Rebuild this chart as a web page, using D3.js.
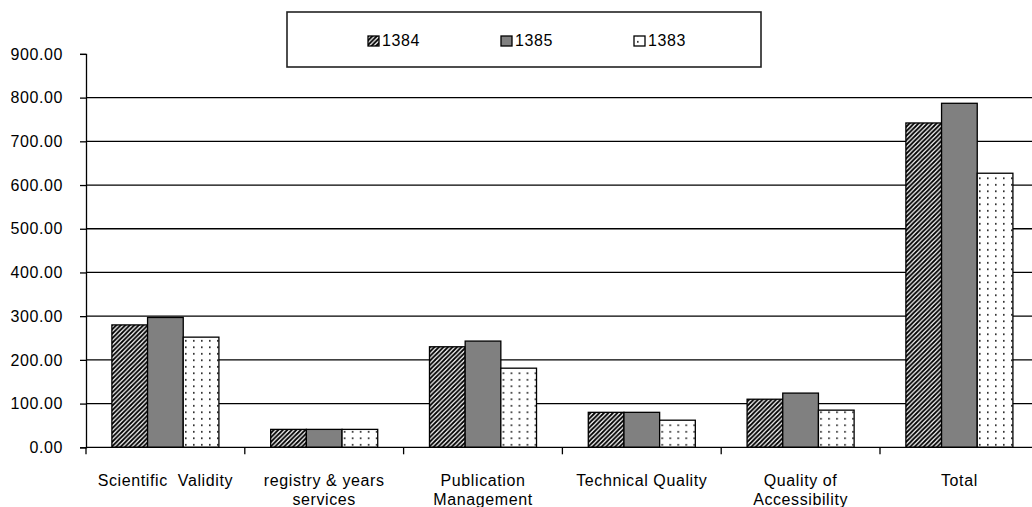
<!DOCTYPE html>
<html>
<head>
<meta charset="utf-8">
<script src="https://cdn.jsdelivr.net/npm/d3@7/dist/d3.min.js"></script>
<style>
  html, body { margin: 0; padding: 0; background: #fff; }
  svg { display: block; }
  text { font-family: "Liberation Sans", Arial, sans-serif; fill: #000; letter-spacing: 0.6px; }
</style>
</head>
<body>
<svg id="chart" width="1032" height="507"></svg>
<script>
// ---- data ----
const categories = ["Scientific  Validity", "registry & years\nservices", "Publication\nManagement", "Technical Quality", "Quality of\nAccessibility", "Total"];
const seriesNames = ["1384", "1385", "1383"];
const values1384 = [280, 41, 230, 80, 110, 742];
const values1385 = [297, 41, 243, 80, 124, 787];
const values1383 = [252, 41, 181, 62, 85, 627];
const yTicks = [0, 100, 200, 300, 400, 500, 600, 700, 800, 900];

const seriesValues = [values1384, values1385, values1383];

const svg = d3.select("#chart");
const defs = svg.append("defs");

// hatch pattern (1384)
const hatch = defs.append("pattern").attr("id", "hatch")
  .attr("patternUnits", "userSpaceOnUse").attr("width", 4.5).attr("height", 4.5);
hatch.append("rect").attr("width", 4.5).attr("height", 4.5).attr("fill", "#fff");
hatch.append("path").attr("d", "M-1.125,1.125 l2.25,-2.25 M0,4.5 l4.5,-4.5 M3.375,5.625 l2.25,-2.25")
  .attr("stroke", "#000").attr("stroke-width", 1.9);

// dot pattern (1383)
const dots = defs.append("pattern").attr("id", "dots")
  .attr("patternUnits", "userSpaceOnUse").attr("width", 8).attr("height", 6.5);
dots.append("rect").attr("width", 8).attr("height", 6.5).attr("fill", "#fff");
dots.append("rect").attr("x", 3).attr("y", 2).attr("width", 1.6).attr("height", 1.6).attr("fill", "#111");

const fills = { "1384": "url(#hatch)", "1385": "#808080", "1383": "url(#dots)" };

// ---- scales ----
const left = 86, step = 158.8;
const x0 = d3.scaleBand().domain(categories).range([left, left + step * categories.length]).padding(0);
const bw = x0.bandwidth();
const x1 = d3.scaleBand().domain(seriesNames).range([bw * 0.163, bw * 0.837]).padding(0);
const y = d3.scaleLinear().domain([0, 900]).range([447.3, 53.9]);

const FS = 16;

// gridlines
svg.append("g").selectAll("line").data(yTicks.filter(t => t > 0 && t < 900)).join("line")
  .attr("x1", left).attr("x2", 1032)
  .attr("y1", d => y(d)).attr("y2", d => y(d))
  .attr("stroke", "#000").attr("stroke-width", 1.3);

// y axis
const yAxis = d3.axisLeft(y).tickValues(yTicks).tickSize(6).tickPadding(17)
  .tickFormat(d3.format(".2f"));
const gy = svg.append("g").attr("transform", `translate(${left},0)`).call(yAxis);
gy.select(".domain").attr("stroke", "#000").attr("stroke-width", 1.3);
gy.selectAll(".tick line").attr("stroke", "#000").attr("stroke-width", 1.3);
gy.selectAll(".tick text").attr("font-size", FS).attr("font-family", "Liberation Sans, Arial, sans-serif").attr("fill", "#000");

// bars
const groups = svg.append("g").selectAll("g").data(categories).join("g")
  .attr("transform", d => `translate(${x0(d)},0)`);
groups.selectAll("rect")
  .data((d, i) => seriesNames.map((s, k) => ({ s, v: seriesValues[k][i] })))
  .join("rect")
  .attr("x", d => x1(d.s))
  .attr("width", x1.bandwidth())
  .attr("y", d => y(d.v))
  .attr("height", d => y(0) - y(d.v))
  .attr("fill", d => fills[d.s])
  .attr("stroke", "#000").attr("stroke-width", 1.3);

// x axis
const boundaries = categories.map(c => x0(c));
const gx = svg.append("g");
gx.append("line").attr("x1", left).attr("x2", 1032).attr("y1", y(0)).attr("y2", y(0))
  .attr("stroke", "#000").attr("stroke-width", 1.3);
gx.selectAll("line.tk").data(boundaries).join("line").attr("class", "tk")
  .attr("x1", d => d).attr("x2", d => d).attr("y1", y(0)).attr("y2", y(0) + 7)
  .attr("stroke", "#000").attr("stroke-width", 1.3);

// category labels
const labels = svg.append("g").selectAll("text").data(categories).join("text")
  .attr("text-anchor", "middle")
  .attr("font-size", FS)
  .style("white-space", "pre")
  .attr("x", d => x0(d) + bw / 2)
  .attr("y", 486);
labels.each(function(d) {
  const t = d3.select(this);
  d.split("\n").forEach((line, i) => {
    t.append("tspan").attr("x", x0(d) + bw / 2).attr("dy", i === 0 ? 0 : 18.5).text(line);
  });
});

// legend
svg.append("rect").attr("x", 287).attr("y", 12).attr("width", 474).attr("height", 55)
  .attr("fill", "#fff").attr("stroke", "#222").attr("stroke-width", 1.6);
const legendX = d3.scalePoint().domain(seriesNames).range([368, 634]);
const li = svg.append("g").selectAll("g").data(seriesNames).join("g")
  .attr("transform", d => `translate(${legendX(d)},0)`);
li.append("rect").attr("x", 0).attr("y", 36).attr("width", 11).attr("height", 10)
  .attr("fill", d => fills[d]).attr("stroke", "#000").attr("stroke-width", 1.3);
li.append("text").attr("x", 14).attr("y", 46).attr("font-size", FS).text(d => d);
</script>
</body>
</html>
